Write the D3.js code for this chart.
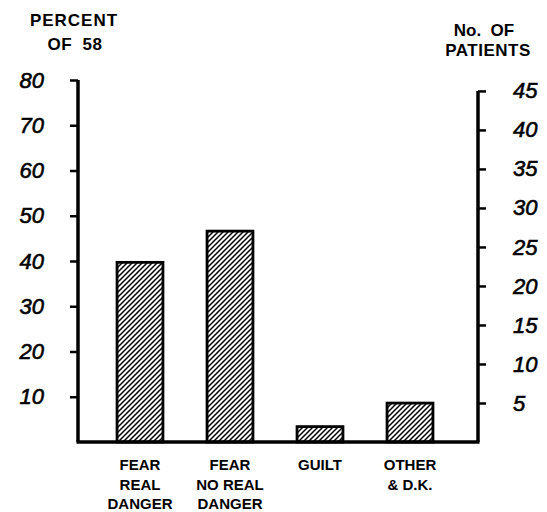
<!DOCTYPE html>
<html>
<head>
<meta charset="utf-8">
<script src="https://cdn.jsdelivr.net/npm/d3@7"></script>
<style>
  body { margin: 0; background: #fff; }
  text { font-family: "Liberation Sans", Arial, sans-serif; fill: #000; }
</style>
</head>
<body>
<div id="chart"></div>
<script>
// chart data
const categories = ["FEAR REAL DANGER", "FEAR NO REAL DANGER", "GUILT", "OTHER & D.K."];
const labelLines = [["FEAR", "REAL", "DANGER"], ["FEAR", "NO REAL", "DANGER"], ["GUILT"], ["OTHER", "& D.K."]];
const percentValues = [39.7, 46.6, 3.4, 8.6];
const percentTicks = [10, 20, 30, 40, 50, 60, 70, 80];
const patientTicks = [5, 10, 15, 20, 25, 30, 35, 40, 45];
const totalPatients = 58;

const width = 547, height = 512;
const axisLeftX = 78, axisRightX = 478, baseY = 442, topY = 80;

const svg = d3.select("#chart")
    .append("svg")
    .attr("width", width)
    .attr("height", height);

// hatch pattern for the bars
svg.append("defs").append("pattern")
    .attr("id", "hatch")
    .attr("patternUnits", "userSpaceOnUse")
    .attr("width", 5)
    .attr("height", 5)
    .append("path")
    .attr("d", "M-1,1 l2,-2 M0,5 l5,-5 M4,6 l2,-2")
    .attr("stroke", "#000")
    .attr("stroke-width", 1.5);

const x = d3.scaleBand()
    .domain(categories)
    .range([95, 455])
    .paddingInner(0.49)
    .paddingOuter(0.245);

const y = d3.scaleLinear()
    .domain([0, 80])
    .range([baseY, topY]);

const yRight = d3.scaleLinear()
    .domain([0, 80 * totalPatients / 100])
    .range([baseY, topY]);

// bars
svg.selectAll(".bar")
    .data(percentValues)
    .enter()
    .append("rect")
    .attr("class", "bar")
    .attr("x", (d, i) => x(categories[i]))
    .attr("y", d => y(d))
    .attr("width", x.bandwidth())
    .attr("height", d => baseY - y(d))
    .attr("fill", "url(#hatch)")
    .attr("stroke", "#000")
    .attr("stroke-width", 2.8);

// left axis
const gl = svg.append("g")
    .attr("transform", `translate(${axisLeftX},0)`)
    .call(d3.axisLeft(y).tickValues(percentTicks).tickSize(8).tickSizeOuter(0).tickPadding(26));
gl.select(".domain").attr("stroke-width", 3.5).attr("d", `M0,${topY}V${baseY}`);
gl.selectAll(".tick line").attr("stroke-width", 2.5);
gl.selectAll(".tick text")
    .style("font-size", "22px")
    .style("font-style", "italic")
    .attr("fill", "#000")
    .attr("stroke", "#000")
    .attr("stroke-width", 0.6);

// right axis
const gr = svg.append("g")
    .attr("transform", `translate(${axisRightX},0)`)
    .call(d3.axisRight(yRight).tickValues(patientTicks).tickSize(8).tickSizeOuter(0).tickPadding(27));
gr.select(".domain").attr("stroke-width", 3.5).attr("d", `M0,${yRight(45)}V${baseY}`);
gr.selectAll(".tick line").attr("stroke-width", 2.5);
gr.selectAll(".tick text")
    .style("font-size", "22px")
    .style("font-style", "italic")
    .attr("fill", "#000")
    .attr("stroke", "#000")
    .attr("stroke-width", 0.6);

// baseline
svg.append("line")
    .attr("x1", axisLeftX - 1.5)
    .attr("x2", axisRightX + 1.5)
    .attr("y1", baseY)
    .attr("y2", baseY)
    .attr("stroke", "#000")
    .attr("stroke-width", 3.5);

// category labels
const lab = svg.selectAll(".cat")
    .data(labelLines)
    .enter()
    .append("text")
    .attr("class", "cat")
    .attr("text-anchor", "middle")
    .style("font-size", "15px")
    .style("font-weight", "bold");
lab.selectAll("tspan")
    .data((d, i) => d.map(s => ({ s: s, c: categories[i] })))
    .enter()
    .append("tspan")
    .attr("x", d => x(d.c) + x.bandwidth() / 2)
    .attr("y", (d, j) => 470 + j * 19.5)
    .text(d => d.s);

// axis titles
const titleStyle = t => t.style("font-size", "17px").style("font-weight", "bold").attr("text-anchor", "middle");
svg.append("text").attr("x", 74).attr("y", 26).text("PERCENT").call(titleStyle).style("letter-spacing", "1px");
svg.append("text").attr("x", 75).attr("y", 50).text("OF  58").call(titleStyle).style("white-space", "pre").style("letter-spacing", "0.5px");
svg.append("text").attr("x", 484).attr("y", 36).text("No.  OF").call(titleStyle).style("white-space", "pre");
svg.append("text").attr("x", 488).attr("y", 56).text("PATIENTS").call(titleStyle).style("letter-spacing", "0.5px");
</script>
</body>
</html>
